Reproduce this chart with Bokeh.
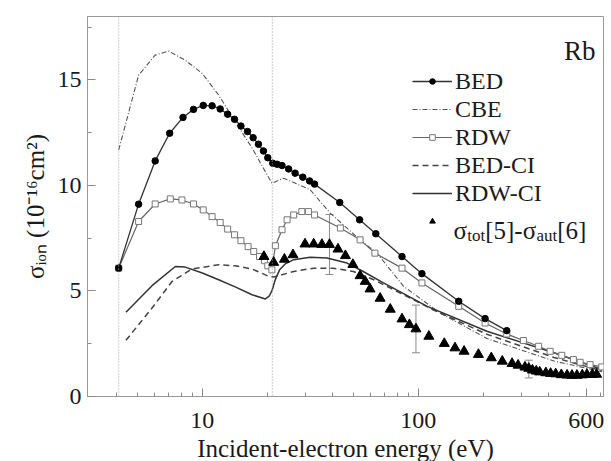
import math
from bokeh.plotting import figure
from bokeh.models import (Range1d, FixedTicker, Span, Legend, LegendItem, Label,
                          Whisker, ColumnDataSource, TeeHead)
from bokeh.embed import file_html
from bokeh.resources import INLINE

# ---------------- data ----------------
bed_e = [4.1, 5.07, 6.05, 7.06, 8.14, 9.1, 10.1, 11.1, 12.1, 13.1, 14.1, 15.1, 16.2, 17.2,
         18.2, 19.2, 20.1, 21.2, 22.2, 23.4, 25.1, 26.9, 29.2, 31.4, 33.1, 43.3, 53.5, 63.6,
         84.1, 104, 154, 204, 257]
bed_s = [6.08, 9.11, 11.16, 12.47, 13.22, 13.6, 13.79, 13.77, 13.62, 13.37, 13.13, 12.81, 12.55,
         12.26, 11.95, 11.63, 11.31, 11.05, 11.0, 10.94, 10.78, 10.58, 10.39, 10.21, 10.06, 9.19,
         8.37, 7.71, 6.63, 5.82, 4.51, 3.69, 3.12]

cbe_e = [4.1, 5.07, 6.05, 6.98, 8.34, 10.0, 11.9, 14.2, 17.0, 21.0, 23.8, 31.6, 39.1, 53.8,
         64.4, 85.5, 126, 208, 425, 708]
cbe_s = [11.68, 15.22, 16.17, 16.36, 15.93, 15.3, 14.28, 13.02, 11.77, 10.1, 10.34, 9.79, 8.69,
         7.42, 6.79, 5.22, 3.96, 2.75, 1.68, 1.18]

rdw_e = [4.1, 5.07, 6.05, 7.11, 8.05, 9.1, 10.1, 11.1, 12.1, 13.1, 14.1, 15.1, 16.3, 17.3, 18.4,
         19.4, 20.1, 21.0, 21.8, 23.4, 24.7, 26.5, 28.9, 31.0, 33.1, 43.6, 53.8, 63.0, 84.1, 104,
         154, 204, 257, 307, 361, 408, 462, 523, 562, 625, 708]
rdw_s = [6.08, 8.29, 9.12, 9.36, 9.31, 9.12, 8.84, 8.52, 8.24, 7.93, 7.66, 7.38, 7.1, 6.87, 6.63,
         6.43, 6.19, 6.0, 7.14, 7.9, 8.37, 8.6, 8.76, 8.76, 8.6, 7.98, 7.42, 6.79, 6.08, 5.38,
         4.27, 3.48, 2.96, 2.65, 2.38, 2.14, 1.95, 1.75, 1.62, 1.51, 1.40]

bedci_e = [4.43, 5.85, 7.24, 8.96, 11.9, 14.2, 17.0, 20.3, 21.4, 26.5, 32.8, 40.3, 50.1, 62.2,
           76.9, 95, 117, 208, 425, 708]
bedci_s = [2.66, 4.19, 5.45, 6.04, 6.24, 6.19, 6.04, 5.69, 5.66, 5.92, 6.08, 6.08, 5.92, 5.53,
           5.06, 4.59, 4.11, 2.95, 1.85, 1.22]

rdwci_e = [4.43, 5.85, 7.5, 8.34, 10.0, 11.9, 14.2, 17.0, 19.6, 20.4, 21.0, 21.8, 22.8, 24.2,
           26.5, 31.6, 37.8, 46.8, 55.6, 69, 85.5, 110, 208, 425, 708]
rdwci_s = [3.99, 5.25, 6.16, 6.13, 5.85, 5.53, 5.19, 4.82, 4.62, 4.75, 5.0, 5.55, 6.0, 6.28,
           6.48, 6.6, 6.56, 6.32, 5.92, 5.38, 4.87, 4.27, 3.09, 2.07, 1.28]

exp_e = [19.3, 21.4, 24.0, 26.3, 29.9, 32.8, 35.8, 38.8, 42.5, 46.0, 49.8, 53.8, 56.8, 59.8,
         66.6, 74.2, 84.1, 91.0, 97.6, 112, 132, 148, 163, 190, 218, 245, 272, 290, 312, 325,
         338, 352, 365, 390, 410, 433, 460, 489, 515, 543, 575, 604, 640, 670]
exp_s = [6.63, 6.35, 6.5, 6.71, 7.22, 7.22, 7.2, 7.2, 6.98, 6.67, 6.25, 5.72, 5.45, 5.09, 4.65,
         4.13, 3.67, 3.4, 3.2, 2.85, 2.51, 2.3, 2.14, 1.99, 1.83, 1.67, 1.56, 1.48, 1.39, 1.33,
         1.25, 1.2, 1.16, 1.12, 1.09, 1.07, 1.03, 1.01, 1.0, 1.0, 1.02, 1.04, 1.04, 1.05]

err_e = [38.8, 97.6, 325]
err_s = [7.2, 3.2, 1.3]
err_d = [1.42, 1.13, 0.42]

thresholds = [4.1, 21.1]
x_major = [10, 100, 600]
x_minor = [4, 5, 6, 7, 8, 9, 20, 30, 40, 50, 60, 70, 80, 90, 200, 300, 400, 500, 700]
y_major = [0, 5, 10, 15]
y_minor = [2.5, 7.5, 12.5, 17.5]
legend_names = ["BED", "CBE", "RDW", "BED-CI", "RDW-CI"]
y_title = "σᵢₒₙ (10⁻¹⁶cm²)"
x_title = "Incident-electron energy (eV)"

# ---------------- figure ----------------
FONT = "Liberation Serif"
X0, X1, Y0, Y1 = 2.94, 721, 0, 18
FW, FH = 516, 380
BL, BT = 87, 16

p = figure(x_axis_type="log", x_range=Range1d(X0, X1), y_range=Range1d(Y0, Y1),
           frame_width=FW, frame_height=FH, min_border_left=BL, min_border_top=BT,
           min_border_right=4, min_border_bottom=64,
           output_backend="svg", toolbar_location=None)
p.xgrid.visible = False
p.ygrid.visible = False
p.outline_line_color = "#9a9a9a"
p.background_fill_color = "white"
p.border_fill_color = "white"

for ax in (p.xaxis[0], p.yaxis[0]):
    ax.axis_line_color = "#9a9a9a"
    ax.major_tick_line_color = "#8a8a8a"
    ax.minor_tick_line_color = "#8a8a8a"
    ax.major_tick_in = 8
    ax.major_tick_out = 0
    ax.minor_tick_in = 4
    ax.minor_tick_out = 0
    ax.major_label_text_font = FONT
    ax.major_label_text_font_size = "24px"
    ax.major_label_text_color = "#1a1a1a"
    ax.axis_label_text_font = FONT
    ax.axis_label_text_font_size = "25px"
    ax.axis_label_text_font_style = "normal"
    ax.axis_label_text_color = "#1a1a1a"

p.xaxis.ticker = FixedTicker(ticks=x_major, minor_ticks=x_minor)
p.xaxis.major_label_overrides = {v: str(v) for v in x_major}
p.xaxis.major_label_standoff = 16
p.xaxis.axis_label = x_title
p.xaxis.axis_label_standoff = 4

p.yaxis.ticker = FixedTicker(ticks=y_major, minor_ticks=y_minor)
p.yaxis.major_label_standoff = 6
p.yaxis.axis_label = y_title
p.yaxis.axis_label_standoff = 6

for t in thresholds:
    p.add_layout(Span(location=t, dimension="height", line_color="#a0a0a0",
                      line_dash="1 2", line_width=1))

# ---------------- curves ----------------
r_cbe = p.line(cbe_e, cbe_s, line_color="#555555", line_width=1.1, line_dash="5 2 1 2")
r_bedci = p.line(bedci_e, bedci_s, line_color="#444444", line_width=1.5, line_dash="6 4")
r_rdwci = p.line(rdwci_e, rdwci_s, line_color="#333333", line_width=1.5)
r_rdw_l = p.line(rdw_e, rdw_s, line_color="#666666", line_width=1.2)
r_rdw_m = p.scatter(rdw_e, rdw_s, marker="square", size=6, line_color="#777777",
                    fill_color="white", line_width=1)
r_bed_l = p.line(bed_e, bed_s, line_color="#333333", line_width=1.3)
r_bed_m = p.scatter(bed_e, bed_s, marker="circle", size=6.5, line_color="black",
                    fill_color="black")

src_err = ColumnDataSource(dict(x=err_e,
                                up=[s + d for s, d in zip(err_s, err_d)],
                                lo=[s - d for s, d in zip(err_s, err_d)]))
p.add_layout(Whisker(source=src_err, base="x", upper="up", lower="lo", dimension="height",
                     line_color="#8a8a8a", line_width=1,
                     upper_head=TeeHead(size=8, line_color="#8a8a8a"),
                     lower_head=TeeHead(size=8, line_color="#8a8a8a")))

r_exp = p.scatter(exp_e, exp_s, marker="triangle", size=10, line_color="black",
                  fill_color="black")

# ---------------- legend ----------------
legend = Legend(items=[
    LegendItem(label=legend_names[0], renderers=[r_bed_l, r_bed_m]),
    LegendItem(label=legend_names[1], renderers=[r_cbe]),
    LegendItem(label=legend_names[2], renderers=[r_rdw_l, r_rdw_m]),
    LegendItem(label=legend_names[3], renderers=[r_bedci]),
    LegendItem(label=legend_names[4], renderers=[r_rdwci]),
    LegendItem(label=" ", renderers=[r_exp]),
], location=(325, 161))
legend.padding = 0
legend.margin = 0
legend.spacing = 0
legend.glyph_width = 40
legend.glyph_height = 14
legend.label_height = 28
legend.label_standoff = 3
legend.border_line_alpha = 0
legend.background_fill_alpha = 0
legend.label_text_font = FONT
legend.label_text_font_size = "24px"
legend.label_text_color = "#1a1a1a"
p.add_layout(legend)

# ---------------- legend text with subscripts ----------------
W = {'σ': 0.549, '-': 0.333, 't': 0.278, 'o': 0.5, '[': 0.333, ']': 0.333, '5': 0.5,
     '6': 0.5, 'a': 0.444, 'u': 0.5}
PPU = FH / (Y1 - Y0)


def tw(text, size):
    return sum(W.get(ch, 0.5) for ch in text) * size


def dy(page_y):
    return Y0 + (BT + FH - page_y) / PPU


def sx(page_x):
    return page_x - BL


def horizontal(pieces, x_start, base_y):
    x = x_start
    for text, size, shift in pieces:
        p.add_layout(Label(x=sx(x), y=dy(base_y + shift), x_units="screen", y_units="data",
                           text=text, text_font=FONT, text_font_size=f"{size}px",
                           text_color="#1a1a1a", text_baseline="alphabetic", text_align="left"))
        x += tw(text, size)


horizontal([("σ", 25, 0), ("tot", 17, 5), ("[5]-", 25, 0), ("σ", 25, 0), ("aut", 17, 5),
            ("[6]", 25, 0)], 453, 230)

# element label
p.add_layout(Label(x=sx(595), y=dy(50), x_units="screen", y_units="data", text="Rb",
                   text_font=FONT, text_font_size="27px", text_color="#1a1a1a",
                   text_baseline="alphabetic", text_align="right"))

open("out.html", "w").write(file_html(p, INLINE))
